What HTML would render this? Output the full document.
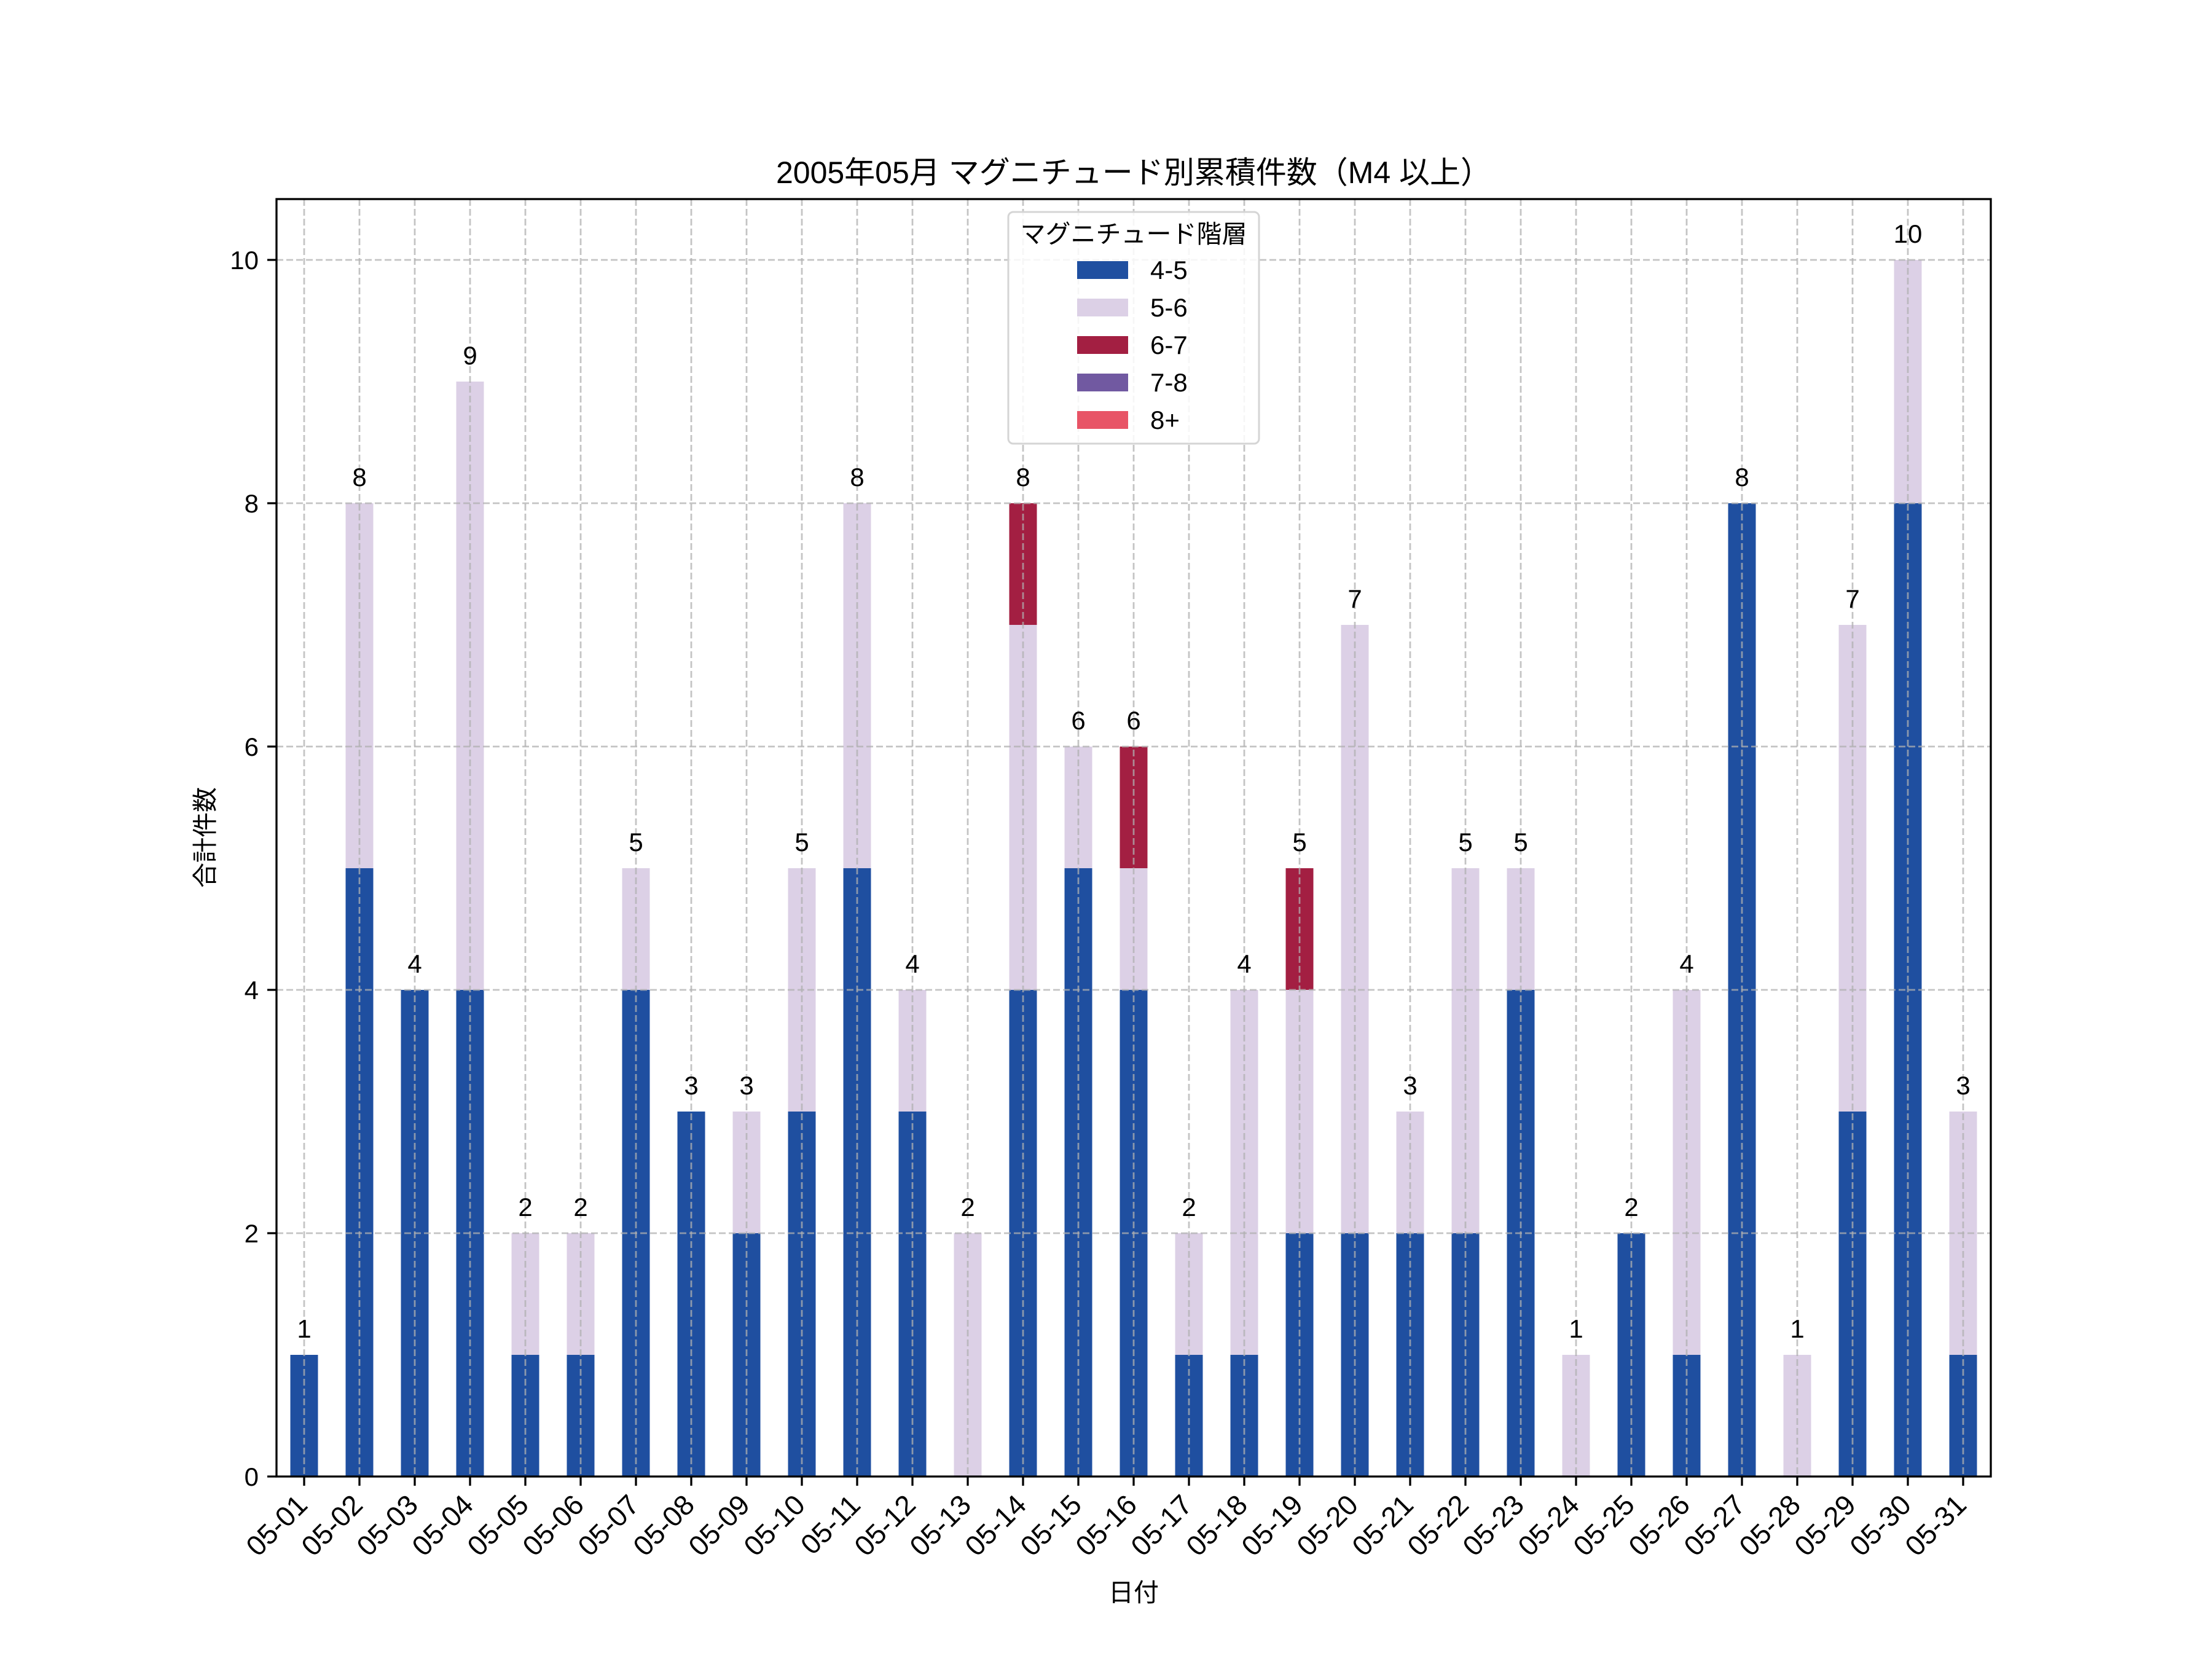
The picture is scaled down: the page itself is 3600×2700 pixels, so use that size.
<!DOCTYPE html>
<html><head><meta charset="utf-8"><style>
html,body{margin:0;padding:0;background:#fff;}
svg{display:block;}
text{font-family:"Liberation Sans","Noto Sans CJK JP",sans-serif;fill:#000;}
</style></head><body>
<svg width="3600" height="2700" viewBox="0 0 3600 2700" xmlns="http://www.w3.org/2000/svg">
<rect width="3600" height="2700" fill="#fff"/>
<g fill="#1f4fa0">
<rect x="472.5" y="2205" width="45" height="198"/>
<rect x="562.5" y="1413" width="45" height="990"/>
<rect x="652.5" y="1611" width="45" height="792"/>
<rect x="742.5" y="1611" width="45" height="792"/>
<rect x="832.5" y="2205" width="45" height="198"/>
<rect x="922.5" y="2205" width="45" height="198"/>
<rect x="1012.5" y="1611" width="45" height="792"/>
<rect x="1102.5" y="1809" width="45" height="594"/>
<rect x="1192.5" y="2007" width="45" height="396"/>
<rect x="1282.5" y="1809" width="45" height="594"/>
<rect x="1372.5" y="1413" width="45" height="990"/>
<rect x="1462.5" y="1809" width="45" height="594"/>
<rect x="1642.5" y="1611" width="45" height="792"/>
<rect x="1732.5" y="1413" width="45" height="990"/>
<rect x="1822.5" y="1611" width="45" height="792"/>
<rect x="1912.5" y="2205" width="45" height="198"/>
<rect x="2002.5" y="2205" width="45" height="198"/>
<rect x="2092.5" y="2007" width="45" height="396"/>
<rect x="2182.5" y="2007" width="45" height="396"/>
<rect x="2272.5" y="2007" width="45" height="396"/>
<rect x="2362.5" y="2007" width="45" height="396"/>
<rect x="2452.5" y="1611" width="45" height="792"/>
<rect x="2632.5" y="2007" width="45" height="396"/>
<rect x="2722.5" y="2205" width="45" height="198"/>
<rect x="2812.5" y="819" width="45" height="1584"/>
<rect x="2992.5" y="1809" width="45" height="594"/>
<rect x="3082.5" y="819" width="45" height="1584"/>
<rect x="3172.5" y="2205" width="45" height="198"/>
</g>
<g fill="#dcd0e6">
<rect x="562.5" y="819" width="45" height="594"/>
<rect x="742.5" y="621" width="45" height="990"/>
<rect x="832.5" y="2007" width="45" height="198"/>
<rect x="922.5" y="2007" width="45" height="198"/>
<rect x="1012.5" y="1413" width="45" height="198"/>
<rect x="1192.5" y="1809" width="45" height="198"/>
<rect x="1282.5" y="1413" width="45" height="396"/>
<rect x="1372.5" y="819" width="45" height="594"/>
<rect x="1462.5" y="1611" width="45" height="198"/>
<rect x="1552.5" y="2007" width="45" height="396"/>
<rect x="1642.5" y="1017" width="45" height="594"/>
<rect x="1732.5" y="1215" width="45" height="198"/>
<rect x="1822.5" y="1413" width="45" height="198"/>
<rect x="1912.5" y="2007" width="45" height="198"/>
<rect x="2002.5" y="1611" width="45" height="594"/>
<rect x="2092.5" y="1611" width="45" height="396"/>
<rect x="2182.5" y="1017" width="45" height="990"/>
<rect x="2272.5" y="1809" width="45" height="198"/>
<rect x="2362.5" y="1413" width="45" height="594"/>
<rect x="2452.5" y="1413" width="45" height="198"/>
<rect x="2542.5" y="2205" width="45" height="198"/>
<rect x="2722.5" y="1611" width="45" height="594"/>
<rect x="2902.5" y="2205" width="45" height="198"/>
<rect x="2992.5" y="1017" width="45" height="792"/>
<rect x="3082.5" y="423" width="45" height="396"/>
<rect x="3172.5" y="1809" width="45" height="396"/>
</g>
<g fill="#a31f42">
<rect x="1642.5" y="819" width="45" height="198"/>
<rect x="1822.5" y="1215" width="45" height="198"/>
<rect x="2092.5" y="1413" width="45" height="198"/>
</g>
<g stroke="#b0b0b0" stroke-opacity="0.75" stroke-width="2.8" stroke-dasharray="11,5" fill="none">
<path d="M450 2007H3240M450 1611H3240M450 1215H3240M450 819H3240M450 423H3240"/>
<path d="M495 324V2403M585 324V2403M675 324V2403M765 324V2403M855 324V2403M945 324V2403M1035 324V2403M1125 324V2403M1215 324V2403M1305 324V2403M1395 324V2403M1485 324V2403M1575 324V2403M1665 324V2403M1755 324V2403M1845 324V2403M1935 324V2403M2025 324V2403M2115 324V2403M2205 324V2403M2295 324V2403M2385 324V2403M2475 324V2403M2565 324V2403M2655 324V2403M2745 324V2403M2835 324V2403M2925 324V2403M3015 324V2403M3105 324V2403M3195 324V2403"/>
</g>
<g font-size="42" text-anchor="middle">
<text x="495" y="2177">1</text>
<text x="585" y="791">8</text>
<text x="675" y="1583">4</text>
<text x="765" y="593">9</text>
<text x="855" y="1979">2</text>
<text x="945" y="1979">2</text>
<text x="1035" y="1385">5</text>
<text x="1125" y="1781">3</text>
<text x="1215" y="1781">3</text>
<text x="1305" y="1385">5</text>
<text x="1395" y="791">8</text>
<text x="1485" y="1583">4</text>
<text x="1575" y="1979">2</text>
<text x="1665" y="791">8</text>
<text x="1755" y="1187">6</text>
<text x="1845" y="1187">6</text>
<text x="1935" y="1979">2</text>
<text x="2025" y="1583">4</text>
<text x="2115" y="1385">5</text>
<text x="2205" y="989">7</text>
<text x="2295" y="1781">3</text>
<text x="2385" y="1385">5</text>
<text x="2475" y="1385">5</text>
<text x="2565" y="2177">1</text>
<text x="2655" y="1979">2</text>
<text x="2745" y="1583">4</text>
<text x="2835" y="791">8</text>
<text x="2925" y="2177">1</text>
<text x="3015" y="989">7</text>
<text x="3105" y="395">10</text>
<text x="3195" y="1781">3</text>
</g>
<rect x="450" y="324" width="2790" height="2079" fill="none" stroke="#000" stroke-width="3.3"/>
<g stroke="#000" stroke-width="3.3">
<path d="M435 2403H450M435 2007H450M435 1611H450M435 1215H450M435 819H450M435 423H450"/>
<path d="M495 2403V2418M585 2403V2418M675 2403V2418M765 2403V2418M855 2403V2418M945 2403V2418M1035 2403V2418M1125 2403V2418M1215 2403V2418M1305 2403V2418M1395 2403V2418M1485 2403V2418M1575 2403V2418M1665 2403V2418M1755 2403V2418M1845 2403V2418M1935 2403V2418M2025 2403V2418M2115 2403V2418M2205 2403V2418M2295 2403V2418M2385 2403V2418M2475 2403V2418M2565 2403V2418M2655 2403V2418M2745 2403V2418M2835 2403V2418M2925 2403V2418M3015 2403V2418M3105 2403V2418M3195 2403V2418"/>
</g>
<g font-size="42" text-anchor="end">
<text x="421" y="2418">0</text>
<text x="421" y="2022">2</text>
<text x="421" y="1626">4</text>
<text x="421" y="1230">6</text>
<text x="421" y="834">8</text>
<text x="421" y="438">10</text>
</g>
<g font-size="46" text-anchor="end">
<text transform="translate(503,2452) rotate(-45)">05-01</text>
<text transform="translate(593,2452) rotate(-45)">05-02</text>
<text transform="translate(683,2452) rotate(-45)">05-03</text>
<text transform="translate(773,2452) rotate(-45)">05-04</text>
<text transform="translate(863,2452) rotate(-45)">05-05</text>
<text transform="translate(953,2452) rotate(-45)">05-06</text>
<text transform="translate(1043,2452) rotate(-45)">05-07</text>
<text transform="translate(1133,2452) rotate(-45)">05-08</text>
<text transform="translate(1223,2452) rotate(-45)">05-09</text>
<text transform="translate(1313,2452) rotate(-45)">05-10</text>
<text transform="translate(1403,2452) rotate(-45)">05-11</text>
<text transform="translate(1493,2452) rotate(-45)">05-12</text>
<text transform="translate(1583,2452) rotate(-45)">05-13</text>
<text transform="translate(1673,2452) rotate(-45)">05-14</text>
<text transform="translate(1763,2452) rotate(-45)">05-15</text>
<text transform="translate(1853,2452) rotate(-45)">05-16</text>
<text transform="translate(1943,2452) rotate(-45)">05-17</text>
<text transform="translate(2033,2452) rotate(-45)">05-18</text>
<text transform="translate(2123,2452) rotate(-45)">05-19</text>
<text transform="translate(2213,2452) rotate(-45)">05-20</text>
<text transform="translate(2303,2452) rotate(-45)">05-21</text>
<text transform="translate(2393,2452) rotate(-45)">05-22</text>
<text transform="translate(2483,2452) rotate(-45)">05-23</text>
<text transform="translate(2573,2452) rotate(-45)">05-24</text>
<text transform="translate(2663,2452) rotate(-45)">05-25</text>
<text transform="translate(2753,2452) rotate(-45)">05-26</text>
<text transform="translate(2843,2452) rotate(-45)">05-27</text>
<text transform="translate(2933,2452) rotate(-45)">05-28</text>
<text transform="translate(3023,2452) rotate(-45)">05-29</text>
<text transform="translate(3113,2452) rotate(-45)">05-30</text>
<text transform="translate(3203,2452) rotate(-45)">05-31</text>
</g>
<text x="1845" y="2606" font-size="41" text-anchor="middle">日付</text>
<text transform="translate(348,1363) rotate(-90)" font-size="41" text-anchor="middle">合計件数</text>
<text x="1845" y="298" font-size="50" text-anchor="middle">2005年05月 マグニチュード別累積件数（M4 以上）</text>
<rect x="1641" y="345" width="408" height="377" rx="8" fill="#fff" fill-opacity="0.85" stroke="#d5d5d5" stroke-width="3"/>
<text x="1845" y="395" font-size="41" text-anchor="middle">マグニチュード階層</text>
<rect x="1753" y="425" width="83" height="29" fill="#1f4fa0"/>
<rect x="1753" y="486" width="83" height="29" fill="#dcd0e6"/>
<rect x="1753" y="547" width="83" height="29" fill="#a31f42"/>
<rect x="1753" y="608" width="83" height="29" fill="#7159a1"/>
<rect x="1753" y="669" width="83" height="29" fill="#e85466"/>
<g font-size="42">
<text x="1872" y="454">4-5</text>
<text x="1872" y="515">5-6</text>
<text x="1872" y="576">6-7</text>
<text x="1872" y="637">7-8</text>
<text x="1872" y="698">8+</text>
</g>
</svg>
</body></html>
